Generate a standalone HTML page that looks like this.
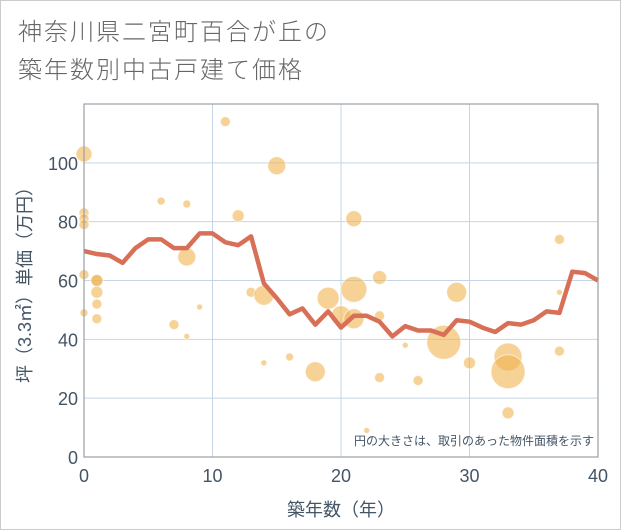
<!DOCTYPE html>
<html><head><meta charset="utf-8"><style>
body{margin:0;background:#fff;}
#wrap{position:relative;width:619px;height:528px;border:1px solid #ccc;background:#fff;overflow:hidden;font-family:"Liberation Sans","Noto Sans CJK JP",sans-serif;}
.title{position:absolute;left:17px;top:13px;font-size:24px;letter-spacing:2px;line-height:38px;color:#666;font-weight:300;}
</style></head><body>
<div id="wrap">
<div class="title">神奈川県二宮町百合が丘の<br>築年数別中古戸建て価格</div>
<svg id="chart" width="621" height="530" style="position:absolute;left:0;top:0"></svg>
</div>
<script>
const lineYears=[0,1,2,3,4,5,6,7,8,9,10,11,12,13,14,15,16,17,18,19,20,21,22,23,24,25,26,27,28,29,30,31,32,33,34,35,36,37,38,39,40];
const lineValues=[70,69,68.5,66,71,74,74,71,71,76,76,73,72,75,59,54,48.5,50.5,45,49.5,44,48,48,46,41,44.5,43,43,41.5,46.5,46,44,42.5,45.5,45,46.5,49.5,49,63,62.5,60];
const bubbleX=[0,0,0,0,0,0,1,1,1,1,1,6,8,7,8,9,8,11,12,13,14,15,14,16,18,19,20,21,21,21,22,23,23,23,25,26,28,29,30,33,33,33,37,37,37];
const bubbleY=[103,83,81,79,62,49,60,60,56,52,47,87,86,45,41,51,68,114,82,56,55,99,32,34,29,54,48,47,57,81,9,61,48,27,38,26,39,56,32,34,29,15,74,56,36];
const bubbleR=[8,5,5,5,5,4,6,6,6,5,5,4,4,5,3,3,9,5,6,5,10,9,3,4,10,11,10,10,13,8,3,7,5,5,3,5,17,10,6,14,17,6,5,3,5];
const xTicks=[0,10,20,30,40];
const yTicks=[0,20,40,60,80,100];
const L=83,R=597,T=103,B=456,xMax=40,yMax=120;
const sx=v=>L+(R-L)*v/xMax, sy=v=>B-(B-T)*v/yMax;
const svg=document.getElementById('chart');const NS='http://www.w3.org/2000/svg';
function mk(t,a,p){const e=document.createElementNS(NS,t);for(const k in a)e.setAttribute(k,a[k]);(p||svg).appendChild(e);return e;}
const grid=mk('g',{});
xTicks.forEach(t=>{if(t>0&&t<xMax){const l=mk('line',{x1:sx(t),x2:sx(t),y1:T,y2:B,stroke:'#c5d5e5','stroke-width':1},grid);}
const tx=mk('text',{x:sx(t),y:B+25,'text-anchor':'middle','font-size':18,fill:'#445566'});tx.textContent=t;});
yTicks.forEach(t=>{if(t>0){const l=mk('line',{x1:L,x2:R,y1:sy(t),y2:sy(t),stroke:'#c5d5e5','stroke-width':1},grid);}
const tx=mk('text',{x:L-6,y:sy(t)+7,'text-anchor':'end','font-size':18,fill:'#445566'});tx.textContent=t;});
const bg=mk('g',{});
bubbleX.forEach((x,i)=>{const c=mk('circle',{cx:sx(x),cy:sy(bubbleY[i]),r:bubbleR[i],fill:'#f0b450','fill-opacity':0.6,stroke:'#fff','stroke-opacity':0.6,'stroke-width':1},bg);});
const pts=lineYears.map((x,i)=>sx(x)+','+sy(lineValues[i])).join(' ');
const pl=mk('polyline',{points:pts,fill:'none',stroke:'#d87058','stroke-width':4.5,'stroke-linejoin':'round'});
const fr=mk('rect',{x:L,y:T,width:R-L,height:B-T,fill:'none',stroke:'#99a0a8','stroke-width':1.2});
const note=mk('text',{x:R-4,y:B-12,'text-anchor':'end','font-size':12,fill:'#445566'});note.textContent='円の大きさは、取引のあった物件面積を示す';
const xt=mk('text',{x:(L+R)/2,y:515,'text-anchor':'middle','font-size':18,fill:'#445566'});xt.textContent='築年数（年）';
const yt=mk('text',{x:0,y:0,'text-anchor':'middle','font-size':18,fill:'#445566',transform:'translate(30,'+(T+B)/2+') rotate(-90)'});yt.textContent='坪（3.3㎡）単価（万円）';
</script>
</body></html>
